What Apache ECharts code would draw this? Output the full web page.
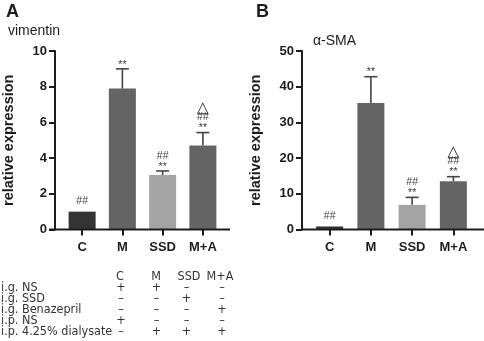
<!DOCTYPE html>
<html>
<head>
<meta charset="utf-8">
<script src="https://cdn.jsdelivr.net/npm/echarts/dist/echarts.min.js"></script>
<style>html,body{margin:0;padding:0;background:#fff}#c{width:484px;height:341px}</style>
</head>
<body>
<div id="c"></div>
<script>
// ---- data ----
const categories = ['C', 'M', 'SSD', 'M+A'];
const vimentinMean = [1.0, 7.9, 3.05, 4.7];
const vimentinErr = [0, 1.1, 0.23, 0.73];
const smaMean = [0.85, 35.4, 6.9, 13.5];
const smaErr = [0, 7.4, 2.1, 1.3];
const vimentinMarks = ['##', '**', '##\n**', '△\n##\n**'];
const smaMarks = ['##', '**', '##\n**', '△\n##\n**'];
const vimentinTicks = { min: 0, max: 10, interval: 2 };
const smaTicks = { min: 0, max: 50, interval: 10 };
const tableHeader = ['C', 'M', 'SSD', 'M+A'];
const tableRowLabels = ['i.g. NS', 'i.g. SSD', 'i.g. Benazepril', 'i.p. NS', 'i.p. 4.25% dialysate'];
const tableSigns = [
  ['+', '+', '–', '–'],
  ['–', '–', '+', '–'],
  ['–', '–', '–', '+'],
  ['+', '–', '–', '–'],
  ['–', '+', '+', '+']
];

// ---- styles / layout ----
const barColors = ['#343434', '#646464', '#a4a4a4', '#646464'];
const AX = '#1c1c1c';
const FONT = '"Liberation Sans", Arial, sans-serif';
const TFONT = '"DejaVu Sans Condensed", "Liberation Sans Narrow", sans-serif';
const GRID_TOP = 51, GRID_H = 178.5;
const gridA = { left: 57, top: GRID_TOP, width: 166, height: GRID_H };
const gridB = { left: 309, top: GRID_TOP, width: 165, height: GRID_H };

const chart = echarts.init(document.getElementById('c'), null, { renderer: 'canvas' });

function yAxisCfg(idx, t) {
  return {
    type: 'value', gridIndex: idx, min: t.min, max: t.max, interval: t.interval,
    offset: 7,
    name: 'relative expression', nameLocation: 'middle', nameGap: 39,
    nameTextStyle: { fontFamily: FONT, fontWeight: 'bold', fontSize: 14.5, color: '#1c1c1c' },
    axisLine: { show: true, lineStyle: { color: AX, width: 2 } },
    axisTick: { show: true, length: 6, lineStyle: { color: AX, width: 2 } },
    axisLabel: { fontFamily: FONT, fontWeight: 'bold', fontSize: 13, color: '#1c1c1c', margin: 8 },
    splitLine: { show: false }
  };
}
function xAxisCfg(idx) {
  return {
    type: 'category', gridIndex: idx, data: categories,
    axisLine: { show: false },
    axisTick: { show: true, alignWithLabel: true, length: 6, lineStyle: { color: AX, width: 2 } },
    axisLabel: { fontFamily: FONT, fontWeight: 'bold', fontSize: 13, color: '#1c1c1c', margin: 11 }
  };
}

function barData(means) {
  return means.map((v, i) => ({ value: v, itemStyle: { color: barColors[i] } }));
}
function errData(means, errs) {
  return means.map((v, i) => [i, v, errs[i]]);
}
function errRender(marks) {
  return function (params, api) {
    const i = api.value(0), m = api.value(1), e = api.value(2);
    const base = api.coord([i, m]);
    const top = api.coord([i, m + e]);
    const children = [];
    const st = { stroke: '#444', lineWidth: 1.6 };
    if (e > 0) {
      children.push({ type: 'line', shape: { x1: base[0], y1: base[1], x2: top[0], y2: top[1] }, style: st });
      children.push({ type: 'line', shape: { x1: top[0] - 6.5, y1: top[1], x2: top[0] + 6.5, y2: top[1] }, style: st });
    }
    // stack the marks upward (visual centres), one text element per line
    const lines = marks[i].split('\n').reverse();
    let y = top[1] - (e > 0 ? 7 : 11);
    lines.forEach((l) => {
      const tri = l === '△';
      if (tri) y -= 1;
      const dy = l === '**' ? 2.8 : 0.3;
      children.push({
        type: 'text', x: top[0], y: y + dy,
        style: {
          text: l, align: 'center', verticalAlign: 'middle',
          font: tri ? '15px "DejaVu Sans", sans-serif' : '10.5px ' + FONT,
          fill: tri ? '#2a2a2a' : '#3c3c3c'
        }
      });
      y -= 8.4;
    });
    return { type: 'group', children: children };
  };
}

// table graphics
const colX = [121, 156.5, 186.5, 222];
const headX = [120, 156, 189, 220];
const rowY = [287.5, 298.5, 309.5, 320.5, 331.5];
const tableGraphics = [];
tableHeader.forEach((h, j) => tableGraphics.push({
  type: 'text', x: headX[j], y: 276.5,
  style: { text: h, font: '12.5px ' + TFONT, fill: '#333', align: 'center', verticalAlign: 'middle' }
}));
tableRowLabels.forEach((r, k) => {
  tableGraphics.push({
    type: 'text', x: 1, y: rowY[k],
    style: { text: r, font: '12.5px ' + TFONT, fill: '#333', align: 'left', verticalAlign: 'middle' }
  });
  tableSigns[k].forEach((s, j) => tableGraphics.push({
    type: 'text', x: colX[j], y: rowY[k],
    style: { text: s, font: '12.5px ' + TFONT, fill: '#333', align: 'center', verticalAlign: 'middle' }
  }));
});

const baseY = GRID_TOP + GRID_H;
const option = {
  animation: false,
  grid: [gridA, gridB],
  xAxis: [xAxisCfg(0), xAxisCfg(1)],
  yAxis: [yAxisCfg(0, vimentinTicks), yAxisCfg(1, smaTicks)],
  series: [
    { type: 'bar', xAxisIndex: 0, yAxisIndex: 0, barWidth: 27, data: barData(vimentinMean), z: 2 },
    { type: 'bar', xAxisIndex: 1, yAxisIndex: 1, barWidth: 27, data: barData(smaMean), z: 2 },
    { type: 'custom', xAxisIndex: 0, yAxisIndex: 0, renderItem: errRender(vimentinMarks), data: errData(vimentinMean, vimentinErr), z: 3, clip: false },
    { type: 'custom', xAxisIndex: 1, yAxisIndex: 1, renderItem: errRender(smaMarks), data: errData(smaMean, smaErr), z: 3, clip: false }
  ],
  graphic: [
    { type: 'line', shape: { x1: gridA.left - 8, y1: baseY, x2: 230, y2: baseY }, style: { stroke: AX, lineWidth: 2 }, z: 10 },
    { type: 'line', shape: { x1: gridB.left - 8, y1: baseY, x2: 484, y2: baseY }, style: { stroke: AX, lineWidth: 2 }, z: 10 },
    { type: 'text', x: 6, y: 12.5, style: { text: 'A', font: 'bold 18px ' + FONT, fill: '#1c1c1c', verticalAlign: 'middle' } },
    { type: 'text', x: 256, y: 12.5, style: { text: 'B', font: 'bold 18px ' + FONT, fill: '#1c1c1c', verticalAlign: 'middle' } },
    { type: 'text', x: 8, y: 31, style: { text: 'vimentin', font: '14px ' + FONT, fill: '#1c1c1c', verticalAlign: 'middle' } },
    { type: 'text', x: 313, y: 41, style: { text: 'α-SMA', font: '14px ' + FONT, fill: '#1c1c1c', verticalAlign: 'middle' } }
  ].concat(tableGraphics)
};
chart.setOption(option);
</script>
</body>
</html>
